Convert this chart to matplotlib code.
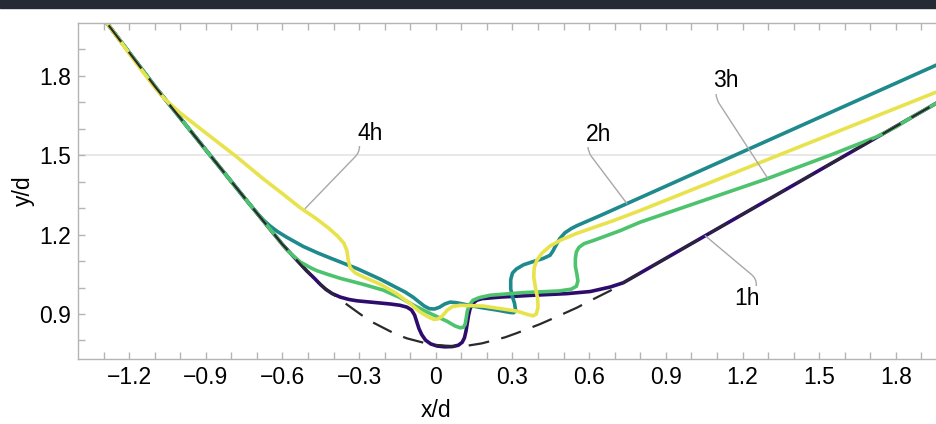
import numpy as np
import matplotlib
matplotlib.use('Agg')
import matplotlib.pyplot as plt
from matplotlib.patches import Rectangle

plt.rcParams['font.family'] = ['Liberation Sans', 'DejaVu Sans']
plt.rcParams['lines.scale_dashes'] = False

# initial bed profile (dashed)
prof_x = [-1.40, -1.287, -1.098, -0.883, -0.687, -0.60, -0.55, -0.505, -0.45, -0.368, -0.292,
          -0.25, -0.159, -0.113, -0.022, 0.069, 0.128, 0.18, 0.271, 0.317, 0.408, 0.46, 0.552,
          0.591, 0.682, 0.733, 2.0]
prof_y = [2.14, 2.0, 1.759, 1.5, 1.266, 1.163, 1.11, 1.063, 1.01, 0.95, 0.897,
          0.87, 0.825, 0.808, 0.785, 0.778, 0.781, 0.789, 0.812, 0.828, 0.862, 0.884, 0.924,
          0.944, 0.988, 1.018, 1.72]

h1_x = [-1.40, -1.287, -1.098, -0.883, -0.687, -0.60, -0.55, -0.505, -0.475, -0.453, -0.43,
        -0.405, -0.374, -0.34, -0.309, -0.244, -0.179, -0.14, -0.113, -0.095, -0.083, -0.075,
        -0.066, -0.055, -0.04, -0.02, 0.005, 0.035, 0.065, 0.088, 0.103, 0.112, 0.118, 0.123,
        0.128, 0.134, 0.145, 0.16, 0.18, 0.252, 0.382, 0.512, 0.604, 0.682, 0.733, 2.0]
h1_y = [2.14, 2.0, 1.759, 1.5, 1.266, 1.163, 1.11, 1.063, 1.035, 1.013, 0.993,
        0.977, 0.964, 0.955, 0.95, 0.944, 0.938, 0.933, 0.926, 0.915, 0.896, 0.872,
        0.845, 0.822, 0.801, 0.787, 0.779, 0.776, 0.777, 0.782, 0.793, 0.81, 0.835, 0.865,
        0.895, 0.92, 0.94, 0.952, 0.958, 0.964, 0.971, 0.977, 0.985, 1.002, 1.018, 1.72]

h2_x = [-1.40, -1.287, -1.098, -0.883, -0.75, -0.70, -0.674, -0.65, -0.62, -0.583, -0.518,
        -0.46, -0.414, -0.309, -0.218, -0.16, -0.12, -0.088, -0.065, -0.045, -0.025, -0.005,
        0.015, 0.035, 0.056, 0.08, 0.11, 0.173, 0.239, 0.29, 0.305, 0.312, 0.308, 0.30, 0.293,
        0.293, 0.30, 0.315, 0.343, 0.38, 0.42, 0.447, 0.458, 0.47, 0.485, 0.505, 0.53, 0.552,
        0.643, 0.747, 2.0]
h2_y = [2.14, 2.0, 1.759, 1.5, 1.34, 1.282, 1.255, 1.234, 1.212, 1.19, 1.155,
        1.13, 1.112, 1.072, 1.032, 1.003, 0.983, 0.963, 0.945, 0.93, 0.92, 0.919,
        0.926, 0.938, 0.945, 0.943, 0.937, 0.925, 0.915, 0.906, 0.905, 0.915, 0.94, 0.965, 0.995,
        1.03, 1.055, 1.07, 1.086, 1.098, 1.11, 1.122, 1.138, 1.16, 1.185, 1.207, 1.223, 1.234,
        1.272, 1.317, 1.859]

h3_x = [-1.40, -1.287, -1.098, -0.883, -0.687, -0.635, -0.583, -0.531, -0.49, -0.466, -0.42,
        -0.374, -0.283, -0.205, -0.14, -0.09, -0.035, 0.043, 0.075, 0.095, 0.108, 0.115, 0.119,
        0.123, 0.13, 0.145, 0.17, 0.212, 0.343, 0.48, 0.53, 0.55, 0.556, 0.552, 0.546, 0.546,
        0.55, 0.56, 0.58, 0.617, 0.721, 0.799, 1.295, 1.55, 1.725, 1.80, 1.85, 2.0]
h3_y = [2.14, 2.0, 1.759, 1.5, 1.266, 1.205, 1.142, 1.097, 1.075, 1.064, 1.049,
        1.035, 1.012, 0.99, 0.962, 0.935, 0.908, 0.873, 0.855, 0.848, 0.85, 0.862, 0.885,
        0.91, 0.932, 0.952, 0.962, 0.971, 0.981, 0.987, 0.994, 1.005, 1.025, 1.05, 1.08, 1.11,
        1.135, 1.152, 1.166, 1.178, 1.215, 1.247, 1.411, 1.503, 1.57, 1.607, 1.637, 1.72]

h4_x = [-1.40, -1.287, -1.15, -1.10, -1.06, -1.0, -0.93, -0.87, -0.779, -0.674, -0.60,
        -0.531, -0.47, -0.42, -0.385, -0.36, -0.348, -0.343, -0.335, -0.315, -0.283, -0.218,
        -0.153, -0.101, -0.065, -0.035, -0.009, 0.008, 0.025, 0.045, 0.065, 0.095, 0.186, 0.317,
        0.36, 0.38, 0.393, 0.40, 0.398, 0.39, 0.383, 0.385, 0.395, 0.415, 0.447, 0.49, 0.552,
        0.695, 0.799, 2.0]
h4_y = [2.14, 2.0, 1.82, 1.757, 1.712, 1.66, 1.607, 1.562, 1.494, 1.41, 1.355,
        1.302, 1.262, 1.225, 1.195, 1.168, 1.14, 1.105, 1.075, 1.055, 1.04, 1.013,
        0.977, 0.94, 0.91, 0.892, 0.88, 0.881, 0.892, 0.915, 0.928, 0.933, 0.93, 0.911,
        0.898, 0.893, 0.9, 0.925, 0.96, 1.0, 1.04, 1.075, 1.103, 1.13, 1.157, 1.18, 1.205,
        1.253, 1.291, 1.755]

series = [('1h', h1_x, h1_y, '#2e0c6e'),
          ('2h', h2_x, h2_y, '#1f8a8c'),
          ('3h', h3_x, h3_y, '#4ec36e'),
          ('4h', h4_x, h4_y, '#e8e34d')]

# label text position, point on curve, side of box where leader starts, leader angle
labels = {'4h': ((-0.257, 1.583), (-0.511, 1.299), (0.08, 0.0), 46),
          '2h': ((0.635, 1.580), (0.748, 1.317), (0.1, 0.0), -53),
          '3h': ((1.136, 1.781), (1.300, 1.411), (0.1, 0.0), -57),
          '1h': ((1.219, 0.957), (1.054, 1.196), (0.85, 1.0), 140)}

xticks = [-1.2, -0.9, -0.6, -0.3, 0, 0.3, 0.6, 0.9, 1.2, 1.5, 1.8]
xlabels = ['\u22121.2', '\u22120.9', '\u22120.6', '\u22120.3', '0', '0.3', '0.6', '0.9',
           '1.2', '1.5', '1.8']
yticks = [0.9, 1.2, 1.5, 1.8]
ylabels = ['0.9', '1.2', '1.5', '1.8']
grid_y = [1.5]

fig = plt.figure(figsize=(9.37, 4.24), dpi=100)
fig.patches.append(Rectangle((0, 1 - 8 / 424), 1, 8 / 424, transform=fig.transFigure,
                             color='#252a34', zorder=0))
ax = fig.add_axes([78 / 937, 1 - 359 / 424, (947 - 78) / 937, (359 - 23) / 424])

for g in grid_y:
    ax.axhline(g, color='#e6e6e6', lw=1.3, zorder=0)

for name, xs, ys, c in series:
    ax.plot(xs, ys, color=c, lw=2.6, solid_capstyle='round', solid_joinstyle='round', zorder=2)

ax.plot(prof_x, prof_y, color='#2a2a2a', lw=1.6, dashes=(15, 9), zorder=3)

for name, (txt, pt, rel, ang) in labels.items():
    ax.annotate(name, xy=pt, xytext=txt, ha='center', va='center', fontsize=16.5,
                bbox=dict(boxstyle='square,pad=0.05', fc='white', ec='none'),
                arrowprops=dict(arrowstyle='-', color='#a8a8a8', lw=1.0, shrinkA=0, shrinkB=0,
                                relpos=rel,
                                connectionstyle='angle,angleA=90,angleB=%d,rad=6' % ang),
                zorder=4)

ax.set_xlim(-1.4, 2.0)
ax.set_ylim(0.73, 2.0)
ax.set_xticks(xticks)
ax.set_xticklabels(xlabels)
ax.set_yticks(yticks)
ax.set_yticklabels(ylabels)
ax.set_xticks(np.arange(-1.3, 2.0, 0.1), minor=True)
ax.set_yticks(np.arange(0.8, 2.0, 0.1), minor=True)
ax.tick_params(which='both', direction='in', length=5, width=1, color='#b4b4b4',
               top=True, right=True, labelsize=16.5, pad=5)
for s in ax.spines.values():
    s.set_color('#b4b4b4')
    s.set_linewidth(1)

ax.set_xlabel('x/d', fontsize=16.5, labelpad=7)
ax.xaxis.label.set_x((435.7 - 78) / (947 - 78))
ax.set_ylabel('y/d', fontsize=16.5, labelpad=3)

fig.savefig('out.png', dpi=100)
